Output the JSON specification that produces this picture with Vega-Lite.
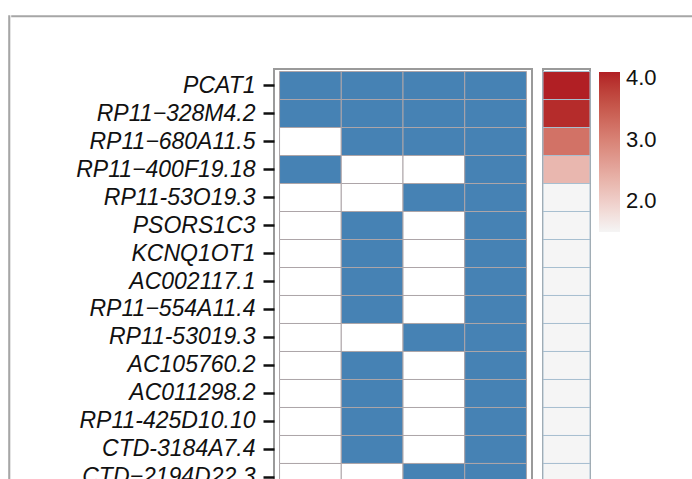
{
  "$schema": "https://vega.github.io/schema/vega-lite/v6.json",
  "padding": {"left": 8, "top": 15, "right": 0, "bottom": 0},
  "background": "white",
  "datasets": {
    "tiles": [
      {"gene": "PCAT1", "group": "G1", "hit": 1}, {"gene": "PCAT1", "group": "G2", "hit": 1}, {"gene": "PCAT1", "group": "G3", "hit": 1}, {"gene": "PCAT1", "group": "G4", "hit": 1},
      {"gene": "RP11−328M4.2", "group": "G1", "hit": 1}, {"gene": "RP11−328M4.2", "group": "G2", "hit": 1}, {"gene": "RP11−328M4.2", "group": "G3", "hit": 1}, {"gene": "RP11−328M4.2", "group": "G4", "hit": 1},
      {"gene": "RP11−680A11.5", "group": "G1", "hit": 0}, {"gene": "RP11−680A11.5", "group": "G2", "hit": 1}, {"gene": "RP11−680A11.5", "group": "G3", "hit": 1}, {"gene": "RP11−680A11.5", "group": "G4", "hit": 1},
      {"gene": "RP11−400F19.18", "group": "G1", "hit": 1}, {"gene": "RP11−400F19.18", "group": "G2", "hit": 0}, {"gene": "RP11−400F19.18", "group": "G3", "hit": 0}, {"gene": "RP11−400F19.18", "group": "G4", "hit": 1},
      {"gene": "RP11-53O19.3", "group": "G1", "hit": 0}, {"gene": "RP11-53O19.3", "group": "G2", "hit": 0}, {"gene": "RP11-53O19.3", "group": "G3", "hit": 1}, {"gene": "RP11-53O19.3", "group": "G4", "hit": 1},
      {"gene": "PSORS1C3", "group": "G1", "hit": 0}, {"gene": "PSORS1C3", "group": "G2", "hit": 1}, {"gene": "PSORS1C3", "group": "G3", "hit": 0}, {"gene": "PSORS1C3", "group": "G4", "hit": 1},
      {"gene": "KCNQ1OT1", "group": "G1", "hit": 0}, {"gene": "KCNQ1OT1", "group": "G2", "hit": 1}, {"gene": "KCNQ1OT1", "group": "G3", "hit": 0}, {"gene": "KCNQ1OT1", "group": "G4", "hit": 1},
      {"gene": "AC002117.1", "group": "G1", "hit": 0}, {"gene": "AC002117.1", "group": "G2", "hit": 1}, {"gene": "AC002117.1", "group": "G3", "hit": 0}, {"gene": "AC002117.1", "group": "G4", "hit": 1},
      {"gene": "RP11−554A11.4", "group": "G1", "hit": 0}, {"gene": "RP11−554A11.4", "group": "G2", "hit": 1}, {"gene": "RP11−554A11.4", "group": "G3", "hit": 0}, {"gene": "RP11−554A11.4", "group": "G4", "hit": 1},
      {"gene": "RP11-53019.3", "group": "G1", "hit": 0}, {"gene": "RP11-53019.3", "group": "G2", "hit": 0}, {"gene": "RP11-53019.3", "group": "G3", "hit": 1}, {"gene": "RP11-53019.3", "group": "G4", "hit": 1},
      {"gene": "AC105760.2", "group": "G1", "hit": 0}, {"gene": "AC105760.2", "group": "G2", "hit": 1}, {"gene": "AC105760.2", "group": "G3", "hit": 0}, {"gene": "AC105760.2", "group": "G4", "hit": 1},
      {"gene": "AC011298.2", "group": "G1", "hit": 0}, {"gene": "AC011298.2", "group": "G2", "hit": 1}, {"gene": "AC011298.2", "group": "G3", "hit": 0}, {"gene": "AC011298.2", "group": "G4", "hit": 1},
      {"gene": "RP11-425D10.10", "group": "G1", "hit": 0}, {"gene": "RP11-425D10.10", "group": "G2", "hit": 1}, {"gene": "RP11-425D10.10", "group": "G3", "hit": 0}, {"gene": "RP11-425D10.10", "group": "G4", "hit": 1},
      {"gene": "CTD-3184A7.4", "group": "G1", "hit": 0}, {"gene": "CTD-3184A7.4", "group": "G2", "hit": 1}, {"gene": "CTD-3184A7.4", "group": "G3", "hit": 0}, {"gene": "CTD-3184A7.4", "group": "G4", "hit": 1},
      {"gene": "CTD−2194D22.3", "group": "G1", "hit": 0}, {"gene": "CTD−2194D22.3", "group": "G2", "hit": 0}, {"gene": "CTD−2194D22.3", "group": "G3", "hit": 1}, {"gene": "CTD−2194D22.3", "group": "G4", "hit": 1}
    ],
    "scores": [
      {"gene": "PCAT1", "score": 4.1},
      {"gene": "RP11−328M4.2", "score": 4.0},
      {"gene": "RP11−680A11.5", "score": 3.2},
      {"gene": "RP11−400F19.18", "score": 2.3},
      {"gene": "RP11-53O19.3", "score": 1.5},
      {"gene": "PSORS1C3", "score": 1.5},
      {"gene": "KCNQ1OT1", "score": 1.5},
      {"gene": "AC002117.1", "score": 1.5},
      {"gene": "RP11−554A11.4", "score": 1.5},
      {"gene": "RP11-53019.3", "score": 1.5},
      {"gene": "AC105760.2", "score": 1.5},
      {"gene": "AC011298.2", "score": 1.5},
      {"gene": "RP11-425D10.10", "score": 1.5},
      {"gene": "CTD-3184A7.4", "score": 1.5},
      {"gene": "CTD−2194D22.3", "score": 1.5}
    ]
  },
  "hconcat": [
    {
      "data": {"values": []},
      "width": 0.5,
      "height": 480,
      "view": {"stroke": "#a6a6a6", "strokeWidth": 1.6},
      "mark": {"type": "rect"},
      "encoding": {}
    },
    {
      "vconcat": [
        {
          "data": {"values": []},
          "width": 700,
          "height": 0.5,
          "view": {"stroke": "#a6a6a6", "strokeWidth": 1.6},
          "mark": {"type": "rect"},
          "encoding": {}
        },
        {
          "hconcat": [
            {
              "data": {"values": []},
              "width": 54,
              "height": 10,
              "view": {"stroke": null},
              "mark": {"type": "rect"},
              "encoding": {}
            },
            {
              "data": {"name": "tiles"},
              "width": 258,
              "height": 425,
              "view": {"stroke": "#9a9a9a", "strokeWidth": 2},
              "mark": {"type": "rect", "stroke": "#ada5a8", "strokeWidth": 1},
              "encoding": {
                "x": {"field": "group", "type": "nominal", "axis": null,
                      "scale": {"paddingInner": 0, "paddingOuter": 0.09}},
                "y": {"field": "gene", "type": "nominal", "sort": null,
                      "scale": {"paddingInner": 0, "paddingOuter": 0.09},
                      "axis": {"title": null, "domain": false, "ticks": true, "tickSize": 11, "tickWidth": 2.5, "tickColor": "#111",
                               "labelFont": "Liberation Sans", "labelFontStyle": "italic", "labelFontSize": 23, "labelColor": "#111",
                               "labelPadding": 8, "labelLimit": 0}},
                "fill": {"field": "hit", "type": "nominal", "legend": null,
                         "scale": {"domain": [0, 1], "range": ["#ffffff", "#4682b4"]}}
              }
            },
            {
              "data": {"name": "scores"},
              "width": 47,
              "height": 425,
              "view": {"stroke": "#9a9a9a", "strokeWidth": 2},
              "mark": {"type": "rect", "stroke": "#a7bfd0", "strokeWidth": 1},
              "encoding": {
                "y": {"field": "gene", "type": "nominal", "sort": null, "axis": null,
                      "scale": {"paddingInner": 0, "paddingOuter": 0.09}},
                "color": {"field": "score", "type": "quantitative",
                          "scale": {"domain": [1.5, 4.1], "range": ["#f5f5f5", "#b11f24"]},
                          "legend": {"title": null, "orient": "right", "direction": "vertical", "gradientLength": 160, "gradientThickness": 21,
                                     "gradientStrokeWidth": 0, "values": [2, 3, 4], "format": ".1f", "offset": 6, "padding": 3,
                                     "labelFont": "Liberation Sans", "labelFontSize": 22, "labelColor": "#111", "labelOffset": 6}}
              }
            }
          ],
          "spacing": 8,
          "resolve": {"scale": {"fill": "independent", "color": "independent"}, "legend": {"fill": "independent", "color": "independent"}}
        }
      ],
      "spacing": 50
    }
  ],
  "spacing": 0
}
